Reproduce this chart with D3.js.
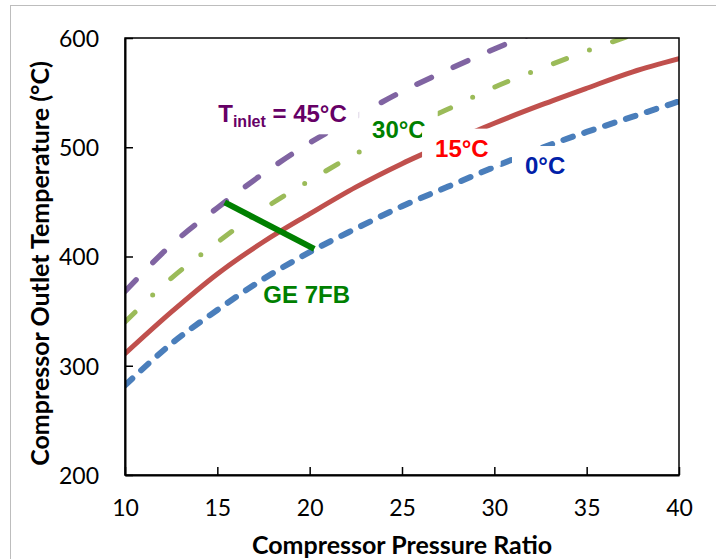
<!DOCTYPE html>
<html>
<head>
<meta charset="utf-8">
<script src="https://cdn.jsdelivr.net/npm/d3@7"></script>
<style>
  body { margin: 0; background: #fff; }
  svg { display: block; }
  .tick text { font-family: Lato, "Open Sans", sans-serif; font-size: 23px; fill: #000; }
  .lbl { font-family: "Liberation Sans", Arial, sans-serif; font-weight: bold; font-size: 24px; }
  .title { font-family: Lato, "Open Sans", sans-serif; font-weight: bold; font-size: 25px; fill: #000; }
</style>
</head>
<body>
<div id="chart"></div>
<script>
// data
var pressureRatio = [10, 12.5, 15, 17.5, 20, 22.5, 25, 27.5, 30, 32.5, 35, 37.5, 40];
var temp0  = [282, 320, 351, 379.5, 404, 425.5, 446, 464, 482, 499, 514, 528, 542];
var temp15 = [311, 349, 384, 413.5, 439, 463.5, 485, 504, 522, 538.5, 554, 569, 581];
var temp30 = [340, 380, 413, 443.5, 469.5, 494, 516, 535, 555, 572, 588, 603, 617];
var temp45 = [368, 410.5, 444.5, 476, 504, 528, 551, 571, 590, 607, 623.5, 639, 653.5];
var ge7fbRatio = [15.4, 20.25];
var ge7fbTemp  = [449.5, 407];
var xTicks = [10, 15, 20, 25, 30, 35, 40];
var yTicks = [200, 300, 400, 500, 600];

var W = 716, H = 559;
var margin = {top: 38, right: 37, bottom: 84, left: 125};
var width = W - margin.left - margin.right;
var height = H - margin.top - margin.bottom;

var svg = d3.select("#chart").append("svg")
    .attr("width", W)
    .attr("height", H);

// outer chart-area border
svg.append("rect")
    .attr("x", 10.5).attr("y", 5.5)
    .attr("width", W).attr("height", H)
    .attr("fill", "none").attr("stroke", "#bdbdbd").attr("stroke-width", 1);

var g = svg.append("g").attr("transform", "translate(" + margin.left + "," + margin.top + ")");

var x = d3.scaleLinear().domain([10, 40]).range([0, width]);
var y = d3.scaleLinear().domain([200, 600]).range([height, 0]);

svg.append("defs").append("clipPath").attr("id", "plotclip")
  .append("rect").attr("width", width).attr("height", height);

// series
var series = [
  {vals: temp0,  color: "#4a7ebb", w: 6,   dash: "10,12"},
  {vals: temp15, color: "#c0504d", w: 5,   dash: null},
  {vals: temp30, color: "#9bbb59", w: 5,   dash: "14,24.5,0,24.5"},
  {vals: temp45, color: "#8064a2", w: 5.5, dash: "16,24"}
];

var line = d3.line()
    .x(function (d) { return x(d[0]); })
    .y(function (d) { return y(d[1]); })
    .curve(d3.curveMonotoneX);

var plot = g.append("g").attr("clip-path", "url(#plotclip)");

series.forEach(function (s) {
  var pts = pressureRatio.map(function (p, i) { return [p, s.vals[i]]; });
  plot.append("path")
      .datum(pts)
      .attr("d", line)
      .attr("fill", "none")
      .attr("stroke", s.color)
      .attr("stroke-width", s.w)
      .attr("stroke-linecap", "round")
      .attr("stroke-dasharray", s.dash);
});

// frame
g.append("rect")
    .attr("width", width).attr("height", height)
    .attr("fill", "none").attr("stroke", "#000").attr("stroke-width", 1.5);

// axes, ticks pointing inwards
var xAxis = g.append("g")
    .attr("transform", "translate(0," + height + ")")
    .call(d3.axisBottom(x).tickValues(xTicks).tickSizeInner(-8).tickSizeOuter(0).tickPadding(25));
var yAxis = g.append("g")
    .call(d3.axisLeft(y).tickValues(yTicks).tickSizeInner(-8).tickSizeOuter(0).tickPadding(26));
[xAxis, yAxis].forEach(function (a) {
  a.select(".domain").attr("stroke", "#000").attr("stroke-width", 2);
  a.selectAll(".tick line").attr("stroke", "#000").attr("stroke-width", 1.5);
});
yAxis.selectAll(".tick text").attr("dy", "0.36em");

// annotations: text with white box (data coords of left baseline)
var annotations = [
  {main: "T", sub: "inlet", rest: " = 45°C", px: 15.05, py: 523.4, color: "#660066"},
  {main: "30°C", px: 23.38, py: 508.2, color: "#008000"},
  {main: "15°C", px: 26.79, py: 491.4, color: "#ff0000"},
  {main: "0°C",  px: 31.66, py: 475.5, color: "#0020a8"}
];

annotations.forEach(function (a) {
  var grp = g.append("g");
  var box = grp.append("rect").attr("fill", "#fff");
  var t = grp.append("text").attr("class", "lbl")
      .attr("x", x(a.px)).attr("y", y(a.py))
      .attr("fill", a.color);
  t.append("tspan").text(a.main);
  if (a.sub) {
    t.append("tspan").text(a.sub).attr("font-size", "16px").attr("dy", 5.6);
    t.append("tspan").text(a.rest).attr("dy", -5.6);
  }
  var bb = t.node().getBBox();
  box.attr("x", bb.x - 13).attr("y", bb.y - 6)
     .attr("width", bb.width + 25).attr("height", bb.height + 10);
});

// GE 7FB design line
g.append("path")
    .datum(ge7fbRatio.map(function (p, i) { return [p, ge7fbTemp[i]]; }))
    .attr("d", d3.line().x(function (d) { return x(d[0]); }).y(function (d) { return y(d[1]); }))
    .attr("stroke", "#008000").attr("stroke-width", 6).attr("fill", "none");

g.append("text").attr("class", "lbl")
    .attr("x", x(17.49)).attr("y", y(357.7))
    .attr("fill", "#008000")
    .text("GE 7FB");

// axis titles
svg.append("text").attr("class", "title")
    .attr("x", margin.left + width / 2 - 0).attr("y", 554)
    .attr("text-anchor", "middle")
    .text("Compressor Pressure Ratio");

svg.append("text").attr("class", "title")
    .attr("transform", "translate(49," + (margin.top + height / 2 + 7) + ") rotate(-90)")
    .attr("text-anchor", "middle")
    .text("Compressor Outlet Temperature (°C)");
</script>
</body>
</html>
